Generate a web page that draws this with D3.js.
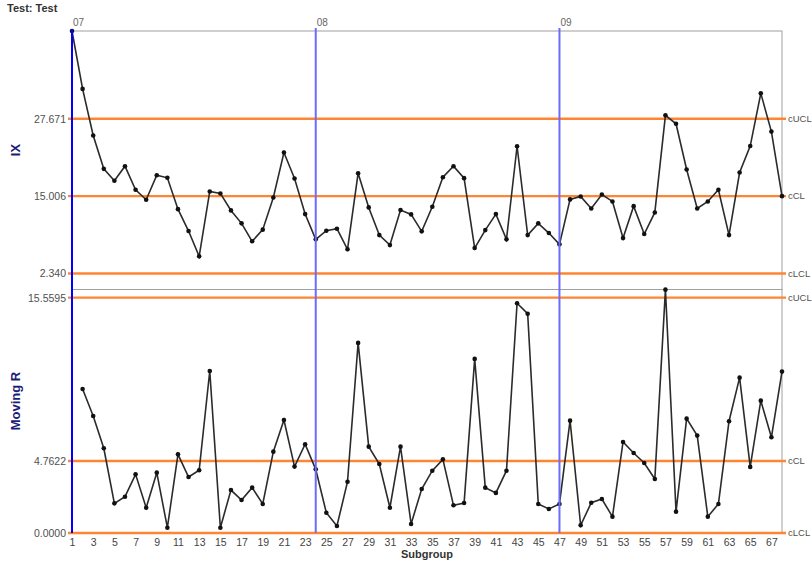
<!DOCTYPE html>
<html>
<head>
<meta charset="utf-8">
<script src="https://cdn.jsdelivr.net/npm/d3@7"></script>
<style>
  html, body { margin: 0; padding: 0; background: #fff; }
  svg { display: block; font-family: "Liberation Sans", Arial, Helvetica, sans-serif; }
</style>
</head>
<body>
<svg id="chart" width="812" height="562"></svg>
<script>
// Individual values (IX) for subgroups 1..68
const ixValues = [
  42.05, 32.57, 24.94, 19.48, 17.52, 19.91, 16.05, 14.42, 18.44, 18.01,
  12.88, 9.29, 5.15, 15.77, 15.45, 12.67, 10.55, 7.61, 9.52, 14.79,
  22.15, 17.90, 12.07, 7.93, 9.35, 9.68, 6.30, 18.76, 13.16, 8.63,
  6.99, 12.72, 12.02, 9.24, 13.27, 18.11, 19.91, 17.95, 6.51, 9.45,
  12.07, 7.93, 23.18, 8.63, 10.55, 8.96, 7.11, 14.47, 14.96, 12.99,
  15.28, 14.14, 8.14, 13.37, 8.80, 12.34, 28.24, 26.86, 19.37, 12.99,
  14.14, 16.05, 8.63, 18.88, 23.21, 31.84, 25.58, 15.01
];
// Moving ranges for subgroups 2..68
const mrValues = [
  9.52, 7.74, 5.60, 1.96, 2.40, 3.88, 1.67, 3.99, 0.35,
  5.20, 3.70, 4.15, 10.71, 0.35, 2.84, 2.18, 3.00, 1.92, 5.38,
  7.47, 4.39, 5.87, 4.21, 1.34, 0.46, 3.39, 12.57, 5.71, 4.56,
  1.67, 5.71, 0.60, 2.91, 4.12, 4.87, 1.83, 1.98, 11.51, 3.00,
  2.65, 4.12, 15.19, 14.50, 1.92, 1.59, 1.92, 7.43, 0.51, 2.00,
  2.25, 1.08, 6.02, 5.29, 4.63, 3.57, 16.09, 1.41, 7.56, 6.44,
  1.08, 1.92, 7.39, 10.27, 4.37, 8.75, 6.33, 10.67
];
const firstMrSubgroup = 2;

// Control limits
const ixLimits = [27.671, 15.006, 2.340];
const mrLimits = [15.5595, 4.7622, 0.0];
const limitNames = ["cUCL", "cCL", "cLCL"];

// Phase changes
const phaseStarts = [1, 24, 47];
const phaseLabels = ["07", "08", "09"];

const xTickValues = [1,3,5,7,9,11,13,15,17,19,21,23,25,27,29,31,33,35,37,39,41,43,45,47,49,51,53,55,57,59,61,63,65,67];

const svg = d3.select("#chart");
const left = 72, right = 782;
const ixTop = 31, split = 289.5, mrBottom = 533;

const x = d3.scaleLinear().domain([1, ixValues.length]).range([left, right]);
const yIX = d3.scaleLinear().domain([-0.28, 42.05]).range([split, ixTop]);
const yMR = d3.scaleLinear().domain([0, 16.1]).range([mrBottom, split]);

const orange = "#ff8533";
const frameGray = "#a0a0a0";
const textGray = "#505050";

// Title
svg.append("text").attr("x", 7).attr("y", 11.5)
  .attr("font-size", 11).attr("font-weight", "bold").attr("fill", "#333")
  .text("Test: Test");

// Frames
const frame = svg.append("g").attr("stroke", frameGray).attr("stroke-width", 1).attr("fill", "none");
frame.append("rect").attr("x", left).attr("y", ixTop).attr("width", right - left).attr("height", split - ixTop);
frame.append("rect").attr("x", left).attr("y", split).attr("width", right - left).attr("height", mrBottom - split);

// Limit lines and labels for a panel
function drawLimits(yScale, limits, fmt) {
  const g = svg.append("g");
  g.selectAll("line").data(limits).join("line")
    .attr("x1", left - 4).attr("x2", right + 4)
    .attr("y1", d => yScale(d)).attr("y2", d => yScale(d))
    .attr("stroke", orange).attr("stroke-width", 2.4);
  g.selectAll("text.name").data(limits).join("text").attr("class", "name")
    .attr("x", right + 6).attr("y", d => yScale(d)).attr("dy", "0.35em")
    .attr("font-size", 9.5).attr("fill", textGray)
    .text((d, i) => limitNames[i]);
  const axis = d3.axisLeft(yScale).tickValues(limits).tickFormat(fmt).tickSize(0).tickPadding(6);
  const ag = svg.append("g").attr("transform", `translate(${left},0)`).call(axis);
  ag.select(".domain").remove();
  ag.selectAll("text").attr("font-size", 10.5).attr("fill", textGray)
    .attr("font-family", "'Liberation Sans', Arial, sans-serif");
}
drawLimits(yIX, ixLimits, d3.format(".3f"));
drawLimits(yMR, mrLimits, d3.format(".4f"));

// Series
function drawSeries(yScale, values, startSubgroup) {
  const pts = values.map((v, i) => [startSubgroup + i, v]);
  svg.append("path").datum(pts)
    .attr("fill", "none").attr("stroke", "#2b2b2b").attr("stroke-width", 1.6)
    .attr("d", d3.line().x(d => x(d[0])).y(d => yScale(d[1])));
  svg.append("g").selectAll("circle").data(pts).join("circle")
    .attr("cx", d => x(d[0])).attr("cy", d => yScale(d[1])).attr("r", 2.3)
    .attr("fill", "#111");
}
drawSeries(yIX, ixValues, 1);
drawSeries(yMR, mrValues, firstMrSubgroup);

// Phase lines
const pg = svg.append("g");
pg.selectAll("line").data(phaseStarts).join("line")
  .attr("x1", d => x(d)).attr("x2", d => x(d))
  .attr("y1", (d, i) => i === 0 ? ixTop - 2 : ixTop - 3).attr("y2", mrBottom)
  .attr("stroke", (d, i) => i === 0 ? "#0000ff" : "#6b6bff")
  .attr("stroke-width", 2);
pg.selectAll("text").data(phaseStarts).join("text")
  .attr("x", d => x(d) + 1).attr("y", 26)
  .attr("font-size", 10).attr("fill", "#666")
  .text((d, i) => phaseLabels[i]);

// X axis
const xAxis = d3.axisBottom(x).tickValues(xTickValues).tickSize(0).tickPadding(6);
const xg = svg.append("g").attr("transform", `translate(0,${mrBottom})`).call(xAxis);
xg.select(".domain").remove();
xg.selectAll("text").attr("font-size", 10.5).attr("fill", "#444")
  .attr("font-family", "'Liberation Sans', Arial, sans-serif");

svg.append("text").attr("x", (left + right) / 2).attr("y", 558)
  .attr("text-anchor", "middle").attr("font-size", 11).attr("font-weight", "bold").attr("fill", "#333")
  .text("Subgroup");

// Panel titles
svg.append("text").attr("transform", "translate(20,150) rotate(-90)")
  .attr("text-anchor", "middle").attr("font-size", 13).attr("font-weight", "bold").attr("fill", "#1c1c78")
  .text("IX");
svg.append("text").attr("transform", "translate(20,401) rotate(-90)")
  .attr("text-anchor", "middle").attr("font-size", 13).attr("font-weight", "bold").attr("fill", "#1c1c78")
  .text("Moving R");
</script>
</body>
</html>
